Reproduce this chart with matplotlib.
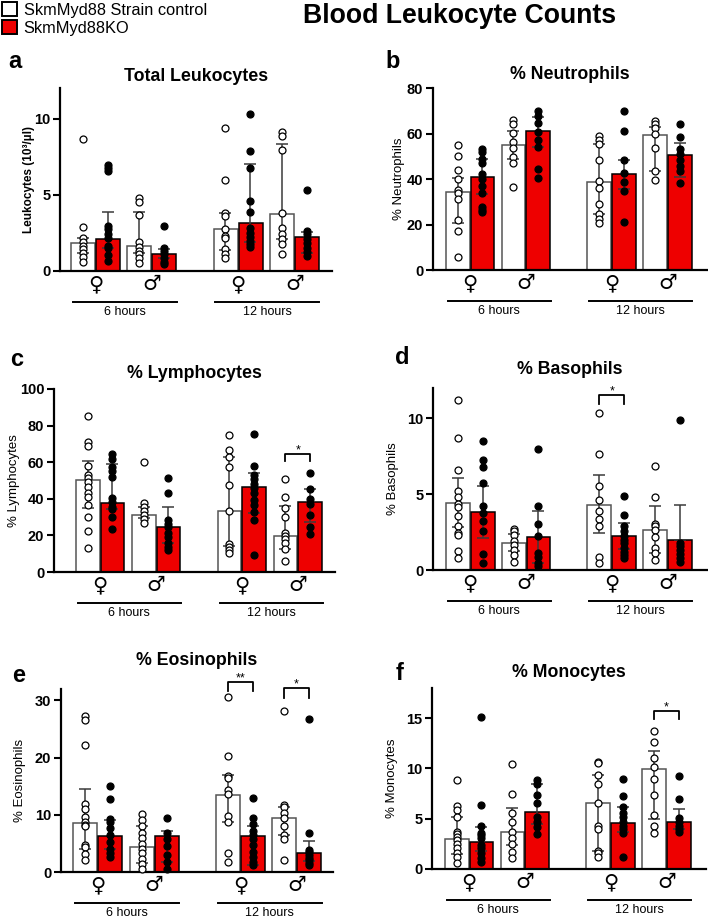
import matplotlib

matplotlib.use("Agg")
import matplotlib.pyplot as plt
from matplotlib.patches import Patch
from matplotlib.transforms import blended_transform_factory

plt.rcParams["font.family"] = ["Liberation Sans", "DejaVu Sans"]

W, H = 708, 918
RED = "#ee0000"

groups = ["6h F ctrl", "6h F KO", "6h M ctrl", "6h M KO",
          "12h F ctrl", "12h F KO", "12h M ctrl", "12h M KO"]
x_pos = [0, 1, 2.25, 3.25, 5.7, 6.7, 7.95, 8.95]
sex_labels = ["♀", "♂", "♀", "♂"]
time_labels = ["6 hours", "12 hours"]

# --- a: total leukocytes (10^3/ul) ---
leuko_med = [1.82, 2.08, 1.67, 1.12, 2.74, 3.14, 3.75, 2.21]
leuko_lo = [1.20, 1.49, 1.16, 0.88, 1.38, 1.93, 2.08, 1.21]
leuko_hi = [2.19, 3.84, 3.88, 1.43, 3.79, 7.00, 8.36, 2.59]
leuko_pts = [
    [8.64, 2.87, 2.15, 1.93, 1.67, 1.45, 1.20, 0.94, 0.61],
    [6.97, 6.75, 6.58, 2.98, 2.76, 2.43, 2.15, 1.67, 1.49, 1.05, 0.68],
    [4.78, 4.50, 3.68, 1.89, 1.60, 1.34, 1.12, 0.83, 0.55],
    [2.98, 1.49, 1.32, 1.10, 0.88, 0.61, 0.44],
    [9.39, 5.99, 3.79, 3.62, 2.76, 2.32, 2.15, 1.43, 1.12, 0.83],
    [10.3, 7.87, 6.73, 4.56, 3.84, 2.81, 2.52, 2.26, 2.00, 1.78, 1.60],
    [9.12, 8.84, 7.96, 3.79, 2.81, 2.43, 2.08, 1.78, 1.12],
    [5.33, 2.63, 2.41, 2.10, 1.82, 1.54, 1.27, 0.99],
]

# --- b: % neutrophils ---
neut_med = [34.4, 40.7, 54.8, 61.0, 38.5, 42.1, 59.2, 50.5]
neut_lo = [20.8, 33.4, 48.8, 54.2, 24.5, 35.6, 43.7, 41.0]
neut_hi = [40.6, 48.6, 61.2, 67.1, 55.2, 48.4, 63.0, 55.7]
neut_pts = [
    [54.9, 50.1, 44.0, 40.0, 35.2, 34.0, 31.2, 22.0, 17.1, 5.9],
    [53.0, 52.0, 49.0, 47.0, 42.0, 40.0, 37.0, 34.0, 27.5, 26.5, 25.6],
    [65.9, 64.2, 60.4, 56.4, 53.5, 49.5, 46.9, 36.3],
    [70.0, 67.7, 64.5, 60.8, 57.1, 54.2, 44.2, 40.6],
    [58.9, 57.1, 55.2, 48.4, 39.1, 36.2, 28.9, 24.6, 22.3, 20.5],
    [70.0, 61.2, 48.4, 42.5, 38.7, 34.7, 21.0],
    [65.6, 64.2, 62.3, 59.6, 53.5, 43.7, 39.6],
    [64.0, 58.6, 53.2, 51.0, 48.4, 45.7, 43.5, 38.4],
]

# --- c: % lymphocytes ---
lymph_med = [50.3, 37.9, 31.0, 24.8, 33.3, 46.6, 19.5, 38.4]
lymph_lo = [35.2, 34.2, 29.3, 15.7, 14.2, 32.4, 12.4, 27.1]
lymph_hi = [60.8, 59.0, 35.7, 35.3, 62.7, 54.3, 36.1, 45.2]
lymph_pts = [
    [85.4, 71.2, 69.0, 57.9, 53.0, 51.2, 49.4, 46.3, 43.0, 40.8, 36.6, 29.9, 22.6, 13.3],
    [64.5, 61.7, 57.2, 55.4, 52.1, 40.3, 38.4, 35.7, 34.2, 29.9, 23.5],
    [60.0, 37.9, 35.7, 33.3, 31.1, 28.8, 26.6],
    [51.2, 43.4, 28.4, 26.2, 24.4, 21.5, 19.3, 16.0, 13.8, 12.0],
    [74.9, 66.7, 62.7, 57.2, 47.7, 33.5, 15.3, 13.8, 12.0, 10.2],
    [75.2, 57.9, 53.0, 50.8, 48.1, 45.7, 43.0, 39.3, 36.6, 33.0, 28.4, 9.3],
    [50.6, 41.2, 34.8, 30.2, 21.5, 19.7, 17.9, 15.7, 12.4, 6.0],
    [53.9, 45.2, 39.7, 37.2, 31.1, 24.8, 20.8],
]

# --- d: % basophils ---
baso_med = [4.42, 3.80, 1.77, 2.16, 4.30, 2.21, 2.65, 1.99]
baso_lo = [2.83, 2.10, 1.28, 0.49, 2.43, 1.37, 1.15, 1.99]
baso_hi = [6.07, 5.52, 2.38, 3.86, 6.25, 3.09, 4.24, 4.26]
baso_pts = [
    [11.19, 8.68, 6.58, 5.19, 4.81, 4.37, 4.13, 3.53, 2.87, 2.43, 2.32, 1.26, 0.77],
    [8.50, 7.22, 6.78, 5.74, 4.19, 3.75, 3.20, 2.60, 1.06, 0.49],
    [2.72, 2.54, 2.32, 1.92, 1.66, 1.32, 0.99, 0.55],
    [7.99, 4.19, 3.02, 2.21, 1.10, 0.88, 0.44, 0.26],
    [10.38, 7.68, 5.52, 4.59, 3.86, 3.36, 2.87, 0.88, 0.44],
    [4.86, 3.64, 2.87, 2.54, 2.25, 1.99, 1.77, 1.43, 1.21, 0.99, 0.77],
    [6.89, 4.81, 3.05, 2.87, 2.65, 2.16, 1.43, 1.15, 0.66],
    [9.89, 1.77, 1.55, 1.32, 1.06, 0.77, 0.51],
]

# --- e: % eosinophils ---
eos_med = [8.5, 6.3, 4.4, 6.3, 13.5, 6.3, 9.4, 3.3]
eos_lo = [4.0, 4.0, 1.6, 1.8, 8.7, 1.3, 6.5, 1.9]
eos_hi = [14.5, 9.1, 8.1, 7.1, 17.0, 8.1, 11.3, 5.5]
eos_pts = [
    [27.25, 26.5, 22.2, 11.9, 11.0, 9.7, 8.8, 8.2, 8.0, 4.7, 4.4, 3.2, 2.1],
    [15.0, 12.7, 9.2, 8.8, 7.7, 6.5, 5.3, 4.0, 3.3, 2.7],
    [10.1, 9.1, 8.1, 6.9, 5.9, 4.9, 4.0, 3.3, 2.3, 1.4, 0.6],
    [9.5, 6.8, 5.7, 4.6, 3.0, 1.8, 0.6],
    [30.6, 20.2, 16.7, 16.4, 14.4, 13.6, 9.8, 8.7, 3.4, 1.8],
    [13.0, 9.4, 8.4, 7.1, 6.4, 5.7, 4.7, 3.5, 2.6, 1.8, 1.2],
    [28.1, 11.8, 11.3, 10.4, 9.5, 8.0, 6.5, 5.7, 2.1],
    [26.8, 6.9, 3.9, 3.5, 3.0, 2.5, 2.1, 1.6, 1.2],
]

# --- f: % monocytes ---
mono_med = [3.01, 2.72, 3.64, 5.70, 6.52, 4.54, 9.93, 4.64]
mono_lo = [1.46, 1.82, 2.38, 4.47, 1.82, 3.64, 4.97, 3.97]
mono_hi = [5.20, 4.14, 6.03, 8.50, 9.34, 6.19, 11.75, 5.93]
mono_pts = [
    [8.9, 6.26, 5.86, 5.13, 3.71, 3.48, 3.21, 2.88, 2.48, 2.05, 1.62, 1.16, 0.56],
    [15.07, 6.36, 4.27, 3.61, 3.38, 3.05, 2.38, 2.05, 1.62, 1.06, 0.73],
    [10.4, 7.45, 5.53, 4.7, 3.71, 3.05, 2.48, 1.72, 1.06],
    [8.9, 8.44, 7.35, 6.52, 5.2, 4.7, 4.2, 3.48],
    [10.66, 10.5, 9.34, 8.41, 6.59, 4.27, 3.94, 1.82, 1.56, 1.23],
    [9.0, 7.25, 6.19, 5.53, 5.13, 4.7, 4.3, 3.97, 3.54, 1.16],
    [13.7, 12.6, 11.06, 10.1, 8.94, 7.35, 5.36, 4.3, 3.54],
    [9.27, 6.92, 5.03, 4.7, 4.3, 3.97, 3.71],
]

# significance brackets: (bar i, bar j, top y, leg y, label)
lymph_sig = [(6, 7, 64.5, 60.7, "*")]
baso_sig = [(4, 5, 11.52, 10.93, "*")]
eos_sig = [(4, 5, 33.2, 31.7, "**"), (6, 7, 32.1, 30.5, "*")]
mono_sig = [(6, 7, 15.7, 14.87, "*")]


fig = plt.figure(figsize=(W / 100, H / 100), dpi=100)


def add_axes_px(left, top, right, bottom):
    return fig.add_axes([left / W, 1 - bottom / H, (right - left) / W, (bottom - top) / H])


def draw_panel(ax, med, lo, hi, pts, title, ylabel, ylim, yticks, xlim,
               ylab_off, title_pad, letter, letter_xy, sig=(), ylabel_bold=False):
    ax_w = ax.get_position().width * W
    ax_h = ax.get_position().height * H
    for i, x in enumerate(x_pos):
        ko = i % 2 == 1
        ax.bar(x, med[i], width=0.96, color=RED if ko else "white",
               edgecolor="black" if ko else "#555555", linewidth=1.1, zorder=2)
        ax.errorbar(x, med[i], yerr=[[med[i] - lo[i]], [hi[i] - med[i]]], fmt="none",
                    ecolor="#3a3a3a", elinewidth=1.1, capsize=4.3, capthick=1.1, zorder=3)
        ax.plot([x] * len(pts[i]), pts[i], "o", ms=5.0, mew=0.9, mec="black",
                mfc="black" if ko else "white", zorder=4, clip_on=False)

    for i, j, ytop, yleg, lab in sig:
        ax.plot([x_pos[i], x_pos[i], x_pos[j], x_pos[j]], [yleg, ytop, ytop, yleg],
                color="black", lw=1.3, clip_on=False, zorder=5)
        ax.annotate(lab, ((x_pos[i] + x_pos[j]) / 2, ytop), xytext=(0, -1.5),
                    textcoords="offset points", ha="center", va="bottom",
                    fontsize=9, annotation_clip=False)

    ax.set_xlim(*xlim)
    ax.set_ylim(*ylim)
    ax.set_yticks(yticks)
    ax.set_xticks([])
    for s in ["top", "right"]:
        ax.spines[s].set_visible(False)
    for s in ["left", "bottom"]:
        ax.spines[s].set_linewidth(1.6)
    ax.tick_params(axis="y", length=5, width=1.5, labelsize=10.5, pad=2)
    for t in ax.get_yticklabels():
        t.set_fontweight("bold")

    ax.set_title(title, fontsize=12.8, fontweight="bold", pad=title_pad)
    ax.set_ylabel(ylabel, fontsize=9.5 if not ylabel_bold else 8.5,
                  fontweight="bold" if ylabel_bold else "normal")
    ax.yaxis.set_label_coords(-ylab_off / ax_w, 0.5)

    trans = blended_transform_factory(ax.transData, ax.transAxes)
    for k in range(4):
        xc = (x_pos[2 * k] + x_pos[2 * k + 1]) / 2
        ax.text(xc, -13 / ax_h, sex_labels[k], transform=trans, ha="center",
                va="center", fontsize=15, family=["DejaVu Sans"])
    for k in range(2):
        x0 = x_pos[4 * k] - 0.4
        x1 = x_pos[4 * k + 3] + 0.5
        ax.plot([x0, x1], [-31 / ax_h] * 2, transform=trans, color="black",
                lw=1.4, clip_on=False)
        ax.text((x0 + x1) / 2, -41 / ax_h, time_labels[k], transform=trans,
                ha="center", va="center", fontsize=9)

    fig.text(letter_xy[0] / W, 1 - letter_xy[1] / H, letter, fontsize=17,
             fontweight="bold", ha="left", va="center")


ax_a = add_axes_px(60, 88, 332, 271)
draw_panel(ax_a, leuko_med, leuko_lo, leuko_hi, leuko_pts, "Total Leukocytes",
           "Leukocytes (10³/µl)", (0, 12), [0, 5, 10], (-0.92, 9.96), 25, 5,
           "a", (8, 62), ylabel_bold=True)

ax_b = add_axes_px(433, 88, 707, 270)
draw_panel(ax_b, neut_med, neut_lo, neut_hi, neut_pts, "% Neutrophils",
           "% Neutrophils", (0, 80), [0, 20, 40, 60, 80], (-0.99, 10.04), 28, 6.5,
           "b", (385, 61))

ax_c = add_axes_px(54, 389, 335, 572)
draw_panel(ax_c, lymph_med, lymph_lo, lymph_hi, lymph_pts, "% Lymphocytes",
           "% Lymphocytes", (0, 100), [0, 20, 40, 60, 80, 100], (-1.35, 9.94), 34, 8,
           "c", (10, 360), sig=lymph_sig)

ax_d = add_axes_px(433, 388, 707, 570)
draw_panel(ax_d, baso_med, baso_lo, baso_hi, baso_pts, "% Basophils",
           "% Basophils", (0, 12), [0, 5, 10], (-1.0, 10.04), 34, 10,
           "d", (395, 357), sig=baso_sig)

ax_e = add_axes_px(61, 689, 333, 872)
draw_panel(ax_e, eos_med, eos_lo, eos_hi, eos_pts, "% Eosinophils",
           "% Eosinophils", (0, 32), [0, 10, 20, 30], (-0.98, 9.91), 35, 17,
           "e", (12, 675), sig=eos_sig)

ax_f = add_axes_px(432, 688, 706, 869)
draw_panel(ax_f, mono_med, mono_lo, mono_hi, mono_pts, "% Monocytes",
           "% Monocytes", (0, 18), [0, 5, 10, 15], (-0.99, 10.04), 34, 8,
           "f", (396, 673), sig=mono_sig)

fig.text(460 / W, 1 - 16 / H, "Blood Leukocyte Counts", fontsize=19.2,
         fontweight="bold", ha="center", va="center")

handles = [Patch(facecolor="white", edgecolor="black", linewidth=1.4),
           Patch(facecolor=RED, edgecolor="black", linewidth=1.4)]
fig.legend(handles, ["SkmMyd88 Strain control", "SkmMyd88KO"], loc="upper left",
           bbox_to_anchor=(0, 1), frameon=False, fontsize=11.8, handlelength=0.9,
           handleheight=0.9, handletextpad=0.4, labelspacing=0.15, borderpad=0.1,
           borderaxespad=0.05)

fig.savefig("out.png", dpi=100)
